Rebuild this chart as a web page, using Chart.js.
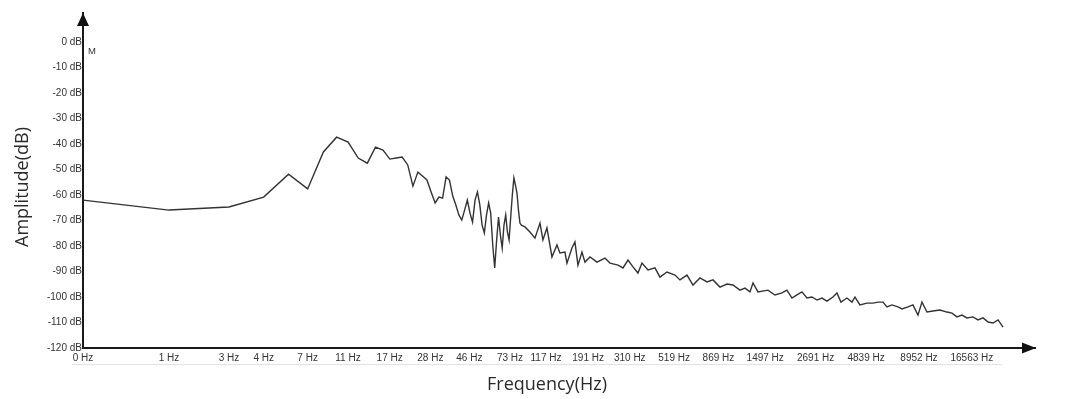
<!DOCTYPE html>
<html><head><meta charset="utf-8">
<script src="https://cdn.jsdelivr.net/npm/chart.js@4.4.1/dist/chart.umd.min.js"></script>
<style>html,body{margin:0;padding:0;background:#fff;}canvas{display:block;}</style>
</head><body>
<canvas id="c" width="1072" height="399"></canvas>
<script>
// spectrum: frequency (Hz) and amplitude (dB)
const freqHz = [
  0, 1.46, 2.93, 4.39, 5.86, 7.32, 8.79, 10.25, 11.72, 13.18,
  14.65, 16.11, 17.58, 19.04, 20.51, 21.97, 23.44, 24.90, 26.37, 27.83,
  29.30, 30.76, 32.23, 33.69, 35.16, 36.62, 38.09, 39.55, 41.02, 42.48,
  43.95, 45.41, 46.88, 48.34, 49.80, 51.27, 52.73, 54.20, 55.66, 57.13,
  58.59, 60.06, 61.52, 62.99, 64.45, 65.92, 67.38, 68.85, 70.31, 71.78,
  73.24, 74.71, 76.17, 77.64, 79.10, 80.57, 82.03, 83.50, 84.96, 86.43,
  87.89,
  91.6, 97.1, 102.9, 109.1, 112.9, 118.3, 125.4, 132.9, 137.6, 145.8,
  149.3, 158.2, 163.8, 169.7, 177.8, 184.1, 195.2, 211.7, 232.4, 246.2,
  270.3, 286.4, 303.6, 321.7, 341.0, 357.2, 383.1, 415.5, 440.4, 477.7,
  524.4, 555.7, 602.9, 646.4, 701.2, 760.7, 815.7, 884.8, 959.9, 1029,
  1116, 1183, 1254, 1299, 1376, 1546, 1677, 1819, 1928, 2044,
  2166, 2296, 2433, 2578, 2733, 2896, 3070, 3292, 3448, 3613,
  3874, 4106, 4252, 4506, 4888, 5242, 5556, 5889, 6169, 6538,
  7011, 7345, 7876, 8346, 8846, 9268, 9823, 10532, 11425, 12394,
  13135, 13922, 14756, 15640, 16769, 17773, 18857, 19985, 21183, 22451,
  23800
];
const levelDb = [
  -62.0, -65.9, -64.7, -60.8, -51.8, -57.6, -43.1, -37.3, -39.2, -45.5,
  -47.5, -41.2, -42.4, -45.9, -45.5, -45.1, -48.2, -56.5, -51.0, -52.5,
  -54.1, -58.8, -63.1, -60.8, -61.2, -52.9, -54.1, -60.4, -63.9, -67.8,
  -69.8, -65.9, -62.0, -67.1, -70.6, -62.0, -58.8, -63.9, -71.8, -74.9,
  -67.8, -63.1, -67.1, -79.6, -88.6, -77.6, -68.6, -75.7, -80.8, -71.8,
  -67.8, -74.5, -77.6, -68.6, -60.0, -53.3, -56.1, -59.2, -65.9, -71.0,
  -71.8,
  -72.5, -74.5, -76.9, -71.0, -77.6, -72.9, -84.3, -79.6, -82.7, -82.4,
  -86.7, -80.8, -78.4, -87.5, -82.4, -86.3, -84.3, -86.3, -84.7, -86.7,
  -87.5, -88.6, -85.5, -88.2, -90.6, -86.7, -89.4, -88.6, -92.2, -90.2,
  -91.4, -93.3, -91.4, -95.3, -92.5, -94.1, -93.3, -96.1, -94.9, -95.3,
  -97.3, -96.5, -98.0, -94.5, -98.0, -97.3, -99.2, -98.4, -97.3, -100.4,
  -99.2, -98.0, -100.4, -100.0, -101.2, -100.4, -101.6, -100.0, -98.4, -102.0,
  -100.4, -102.0, -100.0, -103.1, -102.4, -102.4, -102.0, -102.0, -103.9, -103.1,
  -103.9, -104.7, -103.9, -103.1, -107.1, -102.0, -105.9, -105.5, -105.1, -105.9,
  -106.3, -107.8, -107.1, -108.2, -107.8, -109.0, -108.2, -109.8, -110.2, -109.0,
  -111.8
];
// axis ticks
const xTickHz = [0, 1.46, 2.93, 4.39, 7.32, 11.7, 19, 30.5, 48, 77, 117, 191, 310, 519, 869, 1497, 2691, 4839, 8952, 16563];
const xTickLabels = ['0 Hz','1 Hz','3 Hz','4 Hz','7 Hz','11 Hz','17 Hz','28 Hz','46 Hz','73 Hz','117 Hz','191 Hz','310 Hz','519 Hz','869 Hz','1497 Hz','2691 Hz','4839 Hz','8952 Hz','16563 Hz'];
const yTickDb = [0, -10, -20, -30, -40, -50, -60, -70, -80, -90, -100, -110, -120];
const yTickLabels = ['0 dB','-10 dB','-20 dB','-30 dB','-40 dB','-50 dB','-60 dB','-70 dB','-80 dB','-90 dB','-100 dB','-110 dB','-120 dB'];
const xTitle = 'Frequency(Hz)';
const yTitle = 'Amplitude(dB)';
const markerLabel = 'M';

const tickFont = {family: '"Liberation Sans", Arial, sans-serif', size: 10};
const titleFont = '18px "Open Sans", sans-serif';

const decor = {
  id: 'decor',
  afterDraw(chart) {
    const {ctx, chartArea: a} = chart;
    ctx.save();
    ctx.fillStyle = '#111';
    // x arrow
    ctx.beginPath();
    ctx.moveTo(a.right + 1, a.bottom);
    ctx.lineTo(a.right - 13, a.bottom - 5.5);
    ctx.lineTo(a.right - 13, a.bottom + 5.5);
    ctx.closePath(); ctx.fill();
    // y arrow
    ctx.beginPath();
    ctx.moveTo(a.left, a.top);
    ctx.lineTo(a.left - 6, a.top + 13);
    ctx.lineTo(a.left + 6, a.top + 13);
    ctx.closePath(); ctx.fill();
    // faint rule under the x labels
    ctx.strokeStyle = '#e2e2e2';
    ctx.lineWidth = 1;
    ctx.beginPath();
    ctx.moveTo(a.left - 11, a.bottom + 16.5);
    ctx.lineTo(a.right - 33, a.bottom + 16.5);
    ctx.stroke();
    // marker label
    ctx.fillStyle = '#333';
    ctx.font = '9.5px "Liberation Sans", Arial, sans-serif';
    ctx.textAlign = 'left'; ctx.textBaseline = 'middle';
    ctx.fillText(markerLabel, a.left + 5, chart.scales.y.getPixelForValue(0) + 9);
    // titles
    ctx.fillStyle = '#2a2a2a';
    ctx.font = titleFont;
    ctx.textAlign = 'center'; ctx.textBaseline = 'middle';
    ctx.fillText(xTitle, 547, a.bottom + 37);
    ctx.translate(23, 187);
    ctx.rotate(-Math.PI / 2);
    ctx.fillText(yTitle, 0, 0);
    ctx.restore();
  }
};

new Chart(document.getElementById('c'), {
  type: 'line',
  data: {
    datasets: [{
      data: freqHz.map((f, i) => ({x: f, y: levelDb[i]})),
      borderColor: '#333333',
      borderWidth: 1.4,
      pointRadius: 0,
      tension: 0,
      fill: false
    }]
  },
  options: {
    responsive: false,
    animation: false,
    devicePixelRatio: 1,
    layout: {padding: {left: 0, right: 37, top: 13, bottom: 0}},
    plugins: {legend: {display: false}, tooltip: {enabled: false}},
    scales: {
      x: {
        type: 'logarithmic',
        bounds: 'data',
        min: 0.537,
        max: 34500,
        grid: {display: false, drawTicks: false},
        border: {display: true, color: '#1a1a1a', width: 2},
        afterBuildTicks: s => { s.ticks = xTickHz.map(v => ({value: v})); },
        afterFit: s => { s.height = 51; },
        ticks: {
          autoSkip: false, maxRotation: 0, minRotation: 0, padding: 4,
          color: '#333', font: tickFont,
          callback: (v, i) => xTickLabels[i]
        }
      },
      y: {
        type: 'linear',
        min: -120,
        max: 11.4,
        grid: {display: false, drawTicks: false},
        border: {display: true, color: '#1a1a1a', width: 2},
        afterBuildTicks: s => { s.ticks = yTickDb.map(v => ({value: v})); },
        afterFit: s => { s.width = 83; },
        ticks: {
          autoSkip: false, padding: 1,
          color: '#333', font: tickFont,
          callback: v => yTickLabels[yTickDb.indexOf(v)]
        }
      }
    }
  },
  plugins: [decor]
});
</script>
</body></html>
